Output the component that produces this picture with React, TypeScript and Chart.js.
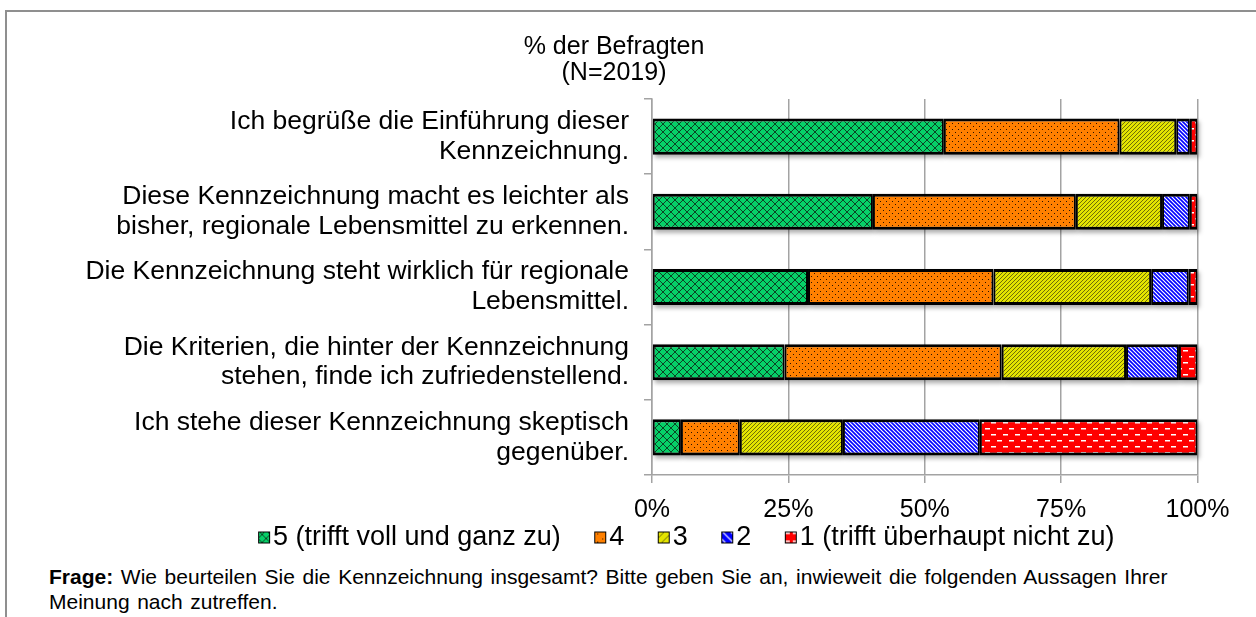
import React, { useEffect, useRef } from 'react';
import { Chart, registerables } from 'chart.js';

Chart.register(...registerables);

const FONT = '"Liberation Sans", Arial, sans-serif';

const categories: string[][] = [
  ['Ich begrüße die Einführung dieser', 'Kennzeichnung.'],
  ['Diese Kennzeichnung macht es leichter als', 'bisher, regionale Lebensmittel zu erkennen.'],
  ['Die Kennzeichnung steht wirklich für regionale', 'Lebensmittel.'],
  ['Die Kriterien, die hinter der Kennzeichnung', 'stehen, finde ich zufriedenstellend.'],
  ['Ich stehe dieser Kennzeichnung skeptisch', 'gegenüber.'],
];

const seriesNames = ['5 (trifft voll und ganz zu)', '4', '3', '2', '1 (trifft überhaupt nicht zu)'];
const s5 = [53.5, 40.5, 28.6, 24.3, 5.3];
const s4 = [32.2, 37.2, 34.0, 39.8, 10.8];
const s3 = [10.4, 15.8, 28.9, 22.8, 18.9];
const s2 = [2.5, 5.1, 6.9, 9.7, 25.1];
const s1 = [1.4, 1.4, 1.6, 3.4, 39.9];
const seriesValues = [s5, s4, s3, s2, s1];
const xTicks = [0, 25, 50, 75, 100];
const titleLines = ['% der Befragten', '(N=2019)'];

type Painter = (g: CanvasRenderingContext2D, w: number, h: number) => void;

function tile(w: number, h: number, paint: Painter): HTMLCanvasElement {
  const c = document.createElement('canvas');
  c.width = w;
  c.height = h;
  const g = c.getContext('2d') as CanvasRenderingContext2D;
  paint(g, w, h);
  return c;
}

const painters: Painter[] = [
  // green crosshatch
  (g, w, h) => {
    g.fillStyle = '#06D068';
    g.fillRect(0, 0, w, h);
    g.strokeStyle = '#0b4424';
    g.lineWidth = 1;
    g.beginPath();
    g.moveTo(-1, -1); g.lineTo(w + 1, h + 1);
    g.moveTo(w + 1, -1); g.lineTo(-1, h + 1);
    g.stroke();
  },
  // orange dots
  (g, w, h) => {
    g.fillStyle = '#FF8000';
    g.fillRect(0, 0, w, h);
    g.fillStyle = '#2a1200';
    g.fillRect(0, 0, 1, 1);
    g.fillRect(3, 3, 1, 1);
  },
  // yellow forward diagonal
  (g, w, h) => {
    g.fillStyle = '#E4E400';
    g.fillRect(0, 0, w, h);
    g.strokeStyle = '#6e6e08';
    g.lineWidth = 1;
    g.beginPath();
    g.moveTo(-1, h + 1); g.lineTo(w + 1, -1);
    g.moveTo(-1, 1); g.lineTo(1, -1);
    g.moveTo(w - 1, h + 1); g.lineTo(w + 1, h - 1);
    g.stroke();
  },
  // blue back diagonal white
  (g, w, h) => {
    g.fillStyle = '#0000FF';
    g.fillRect(0, 0, w, h);
    g.strokeStyle = '#ffffff';
    g.lineWidth = 1.2;
    g.beginPath();
    g.moveTo(-1, -1); g.lineTo(w + 1, h + 1);
    g.moveTo(-1, h - 1); g.lineTo(1, h + 1);
    g.moveTo(w - 1, -1); g.lineTo(w + 1, 1);
    g.stroke();
  },
  // red dashes
  (g, w, h) => {
    g.fillStyle = '#FF0000';
    g.fillRect(0, 0, w, h);
    g.fillStyle = '#ffffff';
    g.fillRect(0, 2, 5, 1.5);
    g.fillRect(6, 8, 5, 1.5);
  },
];
const tileSizes: [number, number][] = [[8, 8], [6, 6], [4, 4], [4, 4], [12, 12]];

const App: React.FC = () => {
  const ref = useRef<HTMLCanvasElement | null>(null);

  useEffect(() => {
    const canvas = ref.current;
    if (!canvas) return;
    const ctx = canvas.getContext('2d') as CanvasRenderingContext2D;
    const tiles = painters.map((p, i) => tile(tileSizes[i][0], tileSizes[i][1], p));
    const patterns = tiles.map((t) => ctx.createPattern(t, 'repeat') as CanvasPattern);

    // legend marker image: transparent left part acts as spacing, box on the right
    const legendImages = painters.map((p) => {
      const c = document.createElement('canvas');
      c.width = 66;
      c.height = 14;
      const g = c.getContext('2d') as CanvasRenderingContext2D;
      const pat = g.createPattern(tile(8, 8, p), 'repeat') as CanvasPattern;
      g.fillStyle = pat;
      g.fillRect(48, 1, 12, 12);
      g.strokeStyle = '#000';
      g.lineWidth = 1;
      g.strokeRect(48.5, 1.5, 11, 11);
      return c;
    });

    const shadowPlugin = {
      id: 'barShadow',
      beforeDatasetsDraw(chart: any) {
        const c = chart.ctx as CanvasRenderingContext2D;
        c.save();
        c.filter = 'blur(2px)';
        c.fillStyle = 'rgba(0,0,0,0.32)';
        chart.data.datasets.forEach((_: any, i: number) => {
          const meta = chart.getDatasetMeta(i);
          meta.data.forEach((el: any) => {
            const p = el.getProps(['x', 'y', 'base', 'height'], true);
            const left = Math.min(p.x, p.base);
            const w = Math.abs(p.x - p.base);
            c.fillRect(left + 2, p.y - p.height / 2 + 3, w, p.height);
          });
        });
        c.restore();
      },
    };

    const titlePlugin = {
      id: 'offsetTitle',
      afterDraw(chart: any) {
        const c = chart.ctx as CanvasRenderingContext2D;
        c.save();
        c.font = `25px ${FONT}`;
        c.fillStyle = '#000';
        c.textAlign = 'center';
        c.textBaseline = 'middle';
        titleLines.forEach((t, i) => c.fillText(t, 607, 35 + i * 26));
        c.restore();
      },
    };

    const chart = new Chart(ctx, {
      type: 'bar',
      data: {
        labels: categories,
        datasets: seriesValues.map((vals, i) => ({
          label: seriesNames[i],
          data: vals,
          backgroundColor: patterns[i],
          borderColor: '#000',
          borderWidth: { top: 3, bottom: 3, left: 2, right: 2 },
          borderSkipped: false,
          barPercentage: 0.5,
          categoryPercentage: 0.96,
        })),
      },
      options: {
        indexAxis: 'y',
        responsive: false,
        animation: false,
        devicePixelRatio: 1,
        layout: { padding: { top: 87, left: 65, right: 0, bottom: 0 } },
        plugins: {
          title: { display: false },
          tooltip: { enabled: false },
          legend: {
            position: 'bottom',
            align: 'center',
            labels: {
              usePointStyle: true,
              pointStyleWidth: 33,
              boxWidth: 33,
              boxHeight: 12,
              padding: 2,
              color: '#000',
              font: { family: FONT, size: 27 },
              generateLabels: () =>
                seriesNames.map((n, i) => ({
                  text: n,
                  pointStyle: legendImages[i],
                  fillStyle: patterns[i],
                  strokeStyle: '#000',
                  lineWidth: 1,
                  hidden: false,
                  datasetIndex: i,
                  fontColor: '#000',
                })),
            },
          },
        },
        scales: {
          x: {
            stacked: true,
            min: 0,
            max: 100,
            afterBuildTicks: (s: any) => {
              s.ticks = xTicks.map((v) => ({ value: v }));
            },
            afterFit: (s: any) => {
              s.height = 47;
            },
            ticks: {
              color: '#000',
              font: { family: FONT, size: 25 },
              padding: 12,
              callback: (v: any) => `${v}%`,
            },
            grid: { color: '#a3a3a3', lineWidth: 1.5, tickLength: 8, drawTicks: true },
            border: { display: true, color: '#a3a3a3', width: 1.5 },
          },
          y: {
            stacked: true,
            afterFit: (s: any) => {
              s.width = 580;
            },
            ticks: {
              color: '#000',
              font: { family: FONT, size: 26.5, lineHeight: 1.13 },
              padding: 15,
              autoSkip: false,
            },
            grid: {
              drawOnChartArea: false,
              drawTicks: true,
              tickLength: 8,
              color: '#a3a3a3',
              lineWidth: 1.5,
              offset: true,
            },
            border: { display: true, color: '#a3a3a3', width: 1.5 },
          },
          yRight: {
            type: 'category',
            axis: 'y',
            position: 'right',
            display: true,
            afterFit: (s: any) => {
              s.width = 71.5;
            },
            ticks: { display: false },
            grid: { display: false },
            border: { display: false },
          },
        },
      } as any,
      plugins: [shadowPlugin, titlePlugin],
    });

    return () => chart.destroy();
  }, []);

  return (
    <div
      style={{
        position: 'fixed',
        left: 5,
        top: 10,
        width: 1251,
        height: 607,
        borderTop: '2px solid #8f8f8f',
        borderLeft: '2px solid #8f8f8f',
        boxSizing: 'border-box',
        background: '#fff',
        overflow: 'hidden',
      }}
    >
      <canvas
        ref={ref}
        width={1262}
        height={549}
        style={{ position: 'absolute', left: 0, top: 0, width: 1262, height: 549 }}
      />
      <div
        style={{
          position: 'absolute',
          left: 42,
          top: 552,
          fontFamily: FONT,
          fontSize: 21,
          lineHeight: '25px',
          wordSpacing: '1.8px',
          color: '#000',
          whiteSpace: 'nowrap',
        }}
      >
        <b>Frage:</b> Wie beurteilen Sie die Kennzeichnung insgesamt? Bitte geben Sie an, inwieweit die folgenden Aussagen Ihrer
        <br />
        Meinung nach zutreffen.
      </div>
    </div>
  );
};

export default App;
